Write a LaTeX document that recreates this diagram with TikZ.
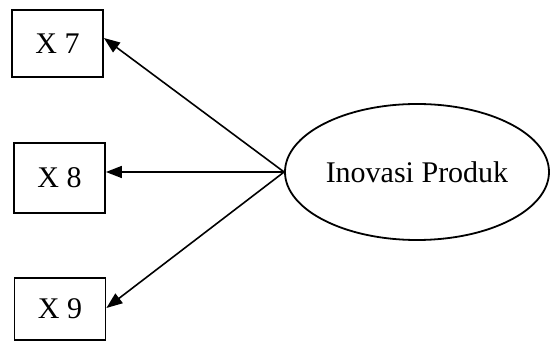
\documentclass[tikz,border=0pt]{standalone}
\usepackage{fontspec}
\setmainfont{Liberation Serif}
\usetikzlibrary{arrows.meta,shapes.geometric}
\begin{document}
\begin{tikzpicture}[x=1pt,y=-1pt,
  box/.style={draw,line width=1.8pt,inner sep=0pt,font=\fontsize{30}{32}\selectfont},
  conn/.style={line width=1.6pt,-{Triangle[length=16pt,width=12pt]}}]
\useasboundingbox (0,0) rectangle (550,347);
\node[box,minimum width=91pt,minimum height=67pt] (x7) at (57.5,43.5) {X\hspace{0.25em}7};
\node[box,minimum width=91pt,minimum height=70pt] (x8) at (59.5,178) {X\hspace{0.25em}8};
\node[box,minimum width=91pt,minimum height=62pt] (x9) at (60,309) {X\hspace{0.25em}9};
\node[draw,line width=1.8pt,ellipse,minimum width=264pt,minimum height=136pt,inner sep=0pt,
  font=\fontsize{30}{32}\selectfont] (ip) at (417,172) {Inovasi Produk};
\draw[conn] (ip.west) -- (x7.east |- 0,38);
\draw[conn] (ip.west) -- (x8.east |- ip.west);
\draw[conn] (ip.west) -- (x9.east |- 0,308);
\end{tikzpicture}
\end{document}
